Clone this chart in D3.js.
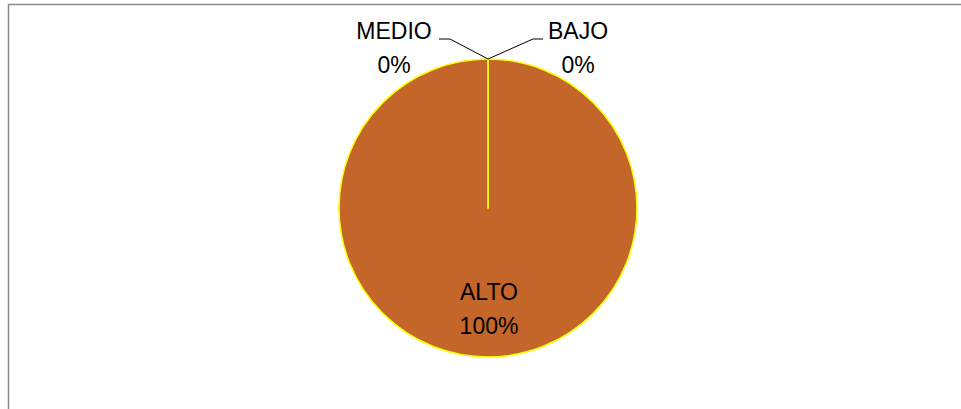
<!DOCTYPE html>
<html>
<head>
<meta charset="utf-8">
<script src="https://cdn.jsdelivr.net/npm/d3@7"></script>
<style>
  html, body { margin: 0; padding: 0; background: #fff; }
  svg { display: block; }
  text { font-family: "Liberation Sans", Arial, sans-serif; font-size: 23px; fill: #000; }
</style>
</head>
<body>
<svg id="chart" width="961" height="409"></svg>
<script>
// Distribution by level
const categories = ["ALTO", "MEDIO", "BAJO"];
const values = [100, 0, 0];
const percentLabels = ["100%", "0%", "0%"];

const svg = d3.select("#chart");
const W = 961, H = 409;

// chart area frame
svg.append("path")
  .attr("d", `M8.5,${H} L8.5,4.5 L${W},4.5`)
  .attr("fill", "none")
  .attr("stroke", "#8c8c8c")
  .attr("stroke-width", 1.5);

const cx = 488, cy = 208, r = 149;
const data = categories.map((c, i) => ({ cat: c, value: values[i], label: percentLabels[i] }));

const pie = d3.pie().sort(null).value(d => d.value);
const arc = d3.arc().innerRadius(0).outerRadius(r);
const arcs = pie(data);

const g = svg.append("g").attr("transform", `translate(${cx},${cy})`);

g.selectAll("path.slice")
  .data(arcs)
  .join("path")
  .attr("class", "slice")
  .attr("d", arc)
  .attr("fill", "#C4652A")
  .attr("stroke", "#FFFF00")
  .attr("stroke-width", 1.5)
  .attr("stroke-linejoin", "round");

// label placement: big slice inside, empty slices outside with leader lines
const outside = {
  "MEDIO": { x: -94, y: -169, dir: -1 },
  "BAJO": { x: 90, y: -169, dir: 1 }
};

arcs.forEach(a => {
  const d = a.data;
  if (outside[d.cat]) {
    const o = outside[d.cat];
    const mid = (a.startAngle + a.endAngle) / 2;
    const px = r * Math.sin(mid), py = -r * Math.cos(mid);
    const ex = o.dir < 0 ? -38 : 45;
    const hx = o.dir < 0 ? -49 : 55;
    g.append("polyline")
      .attr("points", `${px},${py} ${ex},${o.y} ${hx},${o.y}`)
      .attr("fill", "none")
      .attr("stroke", "#000")
      .attr("stroke-width", 1);
    g.append("text")
      .attr("x", o.x).attr("y", -169)
      .attr("text-anchor", "middle")
      .text(d.cat);
    g.append("text")
      .attr("x", o.x).attr("y", -135)
      .attr("text-anchor", "middle")
      .text(d.label);
  } else {
    g.append("text")
      .attr("x", 1).attr("y", 92)
      .attr("text-anchor", "middle")
      .text(d.cat);
    g.append("text")
      .attr("x", 1).attr("y", 126)
      .attr("text-anchor", "middle")
      .text(d.label);
  }
});
</script>
</body>
</html>
